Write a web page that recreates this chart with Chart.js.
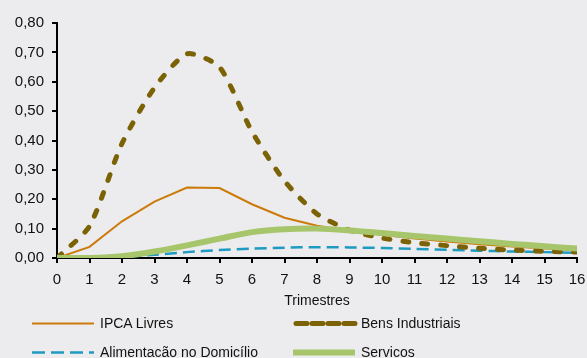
<!DOCTYPE html>
<html>
<head>
<meta charset="utf-8">
<script src="https://cdn.jsdelivr.net/npm/chart.js@4"></script>
<style>
  html, body { margin:0; padding:0; background:#ECECEE; }
  #wrap { position:relative; width:587px; height:358px; overflow:hidden; background:#ECECEE; }
  canvas { position:absolute; left:0; top:0; }
  .leg { position:absolute; font-family:"Liberation Sans", Arial, sans-serif; font-size:14px; color:#111; white-space:nowrap; }
  .leg svg { position:absolute; left:0; top:0; }
  .leg span { position:absolute; top:0; line-height:16px; }
</style>
</head>
<body>
<div id="wrap">
  <canvas id="c" width="587" height="358"></canvas>
  <div id="legend"></div>
</div>
<script>
const quarters = [0,1,2,3,4,5,6,7,8,9,10,11,12,13,14,15,16];
const seriesNames = ["IPCA Livres", "Bens Industriais", "Alimentacão no Domicílio", "Servicos"];
const ipcaLivres = [0.000,0.038,0.125,0.192,0.240,0.238,0.183,0.137,0.110,0.093,0.079,0.066,0.056,0.047,0.039,0.032,0.026];
const bensIndustriais = [0.000,0.108,0.390,0.580,0.695,0.650,0.430,0.262,0.150,0.095,0.068,0.052,0.042,0.033,0.027,0.023,0.020];
const alimentacao = [0.000,0.000,0.004,0.011,0.020,0.027,0.032,0.035,0.037,0.036,0.034,0.031,0.028,0.025,0.022,0.020,0.018];
const servicos = [0.000,0.000,0.006,0.022,0.043,0.066,0.088,0.098,0.100,0.094,0.085,0.075,0.066,0.057,0.048,0.040,0.032];
const yTicks = [0,0.1,0.2,0.3,0.4,0.5,0.6,0.7,0.8];

const colors = { ipca:"#CC7A0A", bens:"#7B6305", alim:"#1F9AC0", serv:"#A7C66B" };
const FONT = "'Liberation Sans', Arial, sans-serif";

function pts(arr){ return arr.map((v,i)=>({x:quarters[i], y:v})); }

const datasets = [
  { label: seriesNames[0], data: pts(ipcaLivres), borderColor: colors.ipca, borderWidth: 2, tension: 0, order: 2 },
  { label: seriesNames[1], data: pts(bensIndustriais), borderColor: colors.bens, borderWidth: 5, borderDash:[6,13], borderCapStyle:'round', tension: 0.22, order: 1 },
  { label: seriesNames[2], data: pts(alimentacao), borderColor: colors.alim, borderWidth: 2.5, borderDash:[12,6], tension: 0.3, order: 3 },
  { label: seriesNames[3], data: pts(servicos), borderColor: colors.serv, borderWidth: 6, tension: 0.3, borderCapStyle:'round', order: 0 }
];
datasets.forEach(d => { d.pointRadius = 0; d.fill = false; });

new Chart(document.getElementById('c'), {
  type: 'line',
  data: { datasets },
  options: {
    responsive: false,
    animation: false,
    events: [],
    layout: { padding: { top: 23, right: 10, bottom: 48, left: 0 } },
    plugins: { legend: { display: false }, tooltip: { enabled: false } },
    scales: {
      x: {
        type: 'linear', min: 0, max: 16,
        afterBuildTicks: s => { s.ticks = quarters.map(v => ({value: v})); },
        ticks: { color:'#111', font:{ family: FONT, size: 15 }, padding: 8, maxRotation: 0, autoSkip: false, callback: v => String(v) },
        grid: { drawOnChartArea: false, drawTicks: true, tickLength: 5, color: '#000', lineWidth: 2 },
        border: { display: true, color: '#000', width: 2 },
        title: { display: true, text: 'Trimestres', color:'#111', font:{ family: FONT, size: 14 }, padding: { top: 4, bottom: 0 } },
        afterFit: s => { s.height = 52; s.paddingRight = 0; s.paddingLeft = 0; }
      },
      y: {
        min: 0, max: 0.8,
        afterBuildTicks: s => { s.ticks = yTicks.map(v => ({value: v})); },
        ticks: { color:'#111', font:{ family: FONT, size: 15 }, padding: 8, callback: v => v.toFixed(2).replace('.', ',') },
        grid: { drawOnChartArea: false, drawTicks: true, tickLength: 5, color: '#000', lineWidth: 2 },
        border: { display: true, color: '#000', width: 2 },
        afterFit: s => { s.width = 57; }
      }
    }
  }
});

// HTML legend
const legendItems = [
  { name: seriesNames[0], x: 32, y: 315, stroke: colors.ipca, w: 2, dash: null, cap: 'butt' },
  { name: seriesNames[1], x: 293, y: 315, stroke: colors.bens, w: 5, dash: '11 5', cap: 'round' },
  { name: seriesNames[2], x: 32, y: 344, stroke: colors.alim, w: 2.5, dash: '13 6', cap: 'butt' },
  { name: seriesNames[3], x: 293, y: 344, stroke: colors.serv, w: 6, dash: null, cap: 'butt' }
];
const leg = document.getElementById('legend');
legendItems.forEach(it => {
  const d = document.createElement('div');
  d.className = 'leg';
  d.style.left = it.x + 'px';
  d.style.top = it.y + 'px';
  d.style.width = '260px';
  d.style.height = '16px';
  const lineLen = 62;
  d.innerHTML = `<svg width="${lineLen+4}" height="16"><line x1="${it.cap==='round'?3:0}" y1="8.5" x2="${lineLen}" y2="8.5" stroke="${it.stroke}" stroke-width="${it.w}" ${it.dash?`stroke-dasharray="${it.dash}"`:''} stroke-linecap="${it.cap}"/></svg><span style="left:${lineLen+6}px">${it.name}</span>`;
  leg.appendChild(d);
});
</script>
</body>
</html>
